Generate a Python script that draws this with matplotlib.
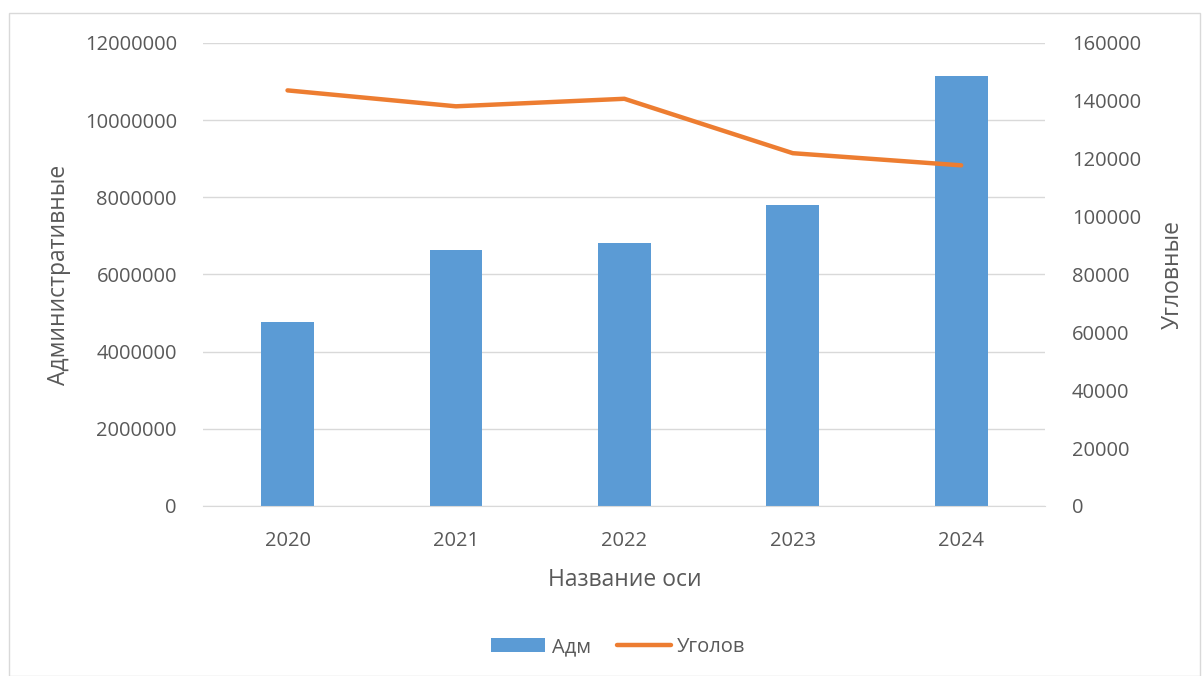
import matplotlib.pyplot as plt
from matplotlib.patches import Rectangle

years = ["2020", "2021", "2022", "2023", "2024"]
adm = [4767000, 6642000, 6824000, 7790000, 11132000]
ugolov = [143600, 138100, 140700, 121900, 117700]

plt.rcParams["font.family"] = ["Open Sans", "DejaVu Sans"]
txt = "#595959"
grid = "#d9d9d9"

fig = plt.figure(figsize=(12.03, 6.76), dpi=100)
ax = fig.add_axes([0.169, 0.2515, 0.7, 0.685])
ax2 = ax.twinx()

x = range(len(years))
ax.bar(x, adm, width=0.313, color="#5b9bd5", label="Адм", zorder=2)
ax2.plot(x, ugolov, color="#ed7d31", lw=3.2, solid_capstyle="round",
         solid_joinstyle="round", label="Уголов", zorder=3)

ax.set_xlim(-0.5, 4.5)
ax.set_ylim(0, 12000000)
ax.set_yticks(range(0, 12000001, 2000000))
ax.set_yticklabels([str(v) for v in range(0, 12000001, 2000000)])
ax2.set_ylim(0, 160000)
ax2.set_yticks(range(0, 160001, 20000))
ax2.set_yticklabels([str(v) for v in range(0, 160001, 20000)])
ax.set_xticks(list(x))
ax.set_xticklabels(years)

ax.yaxis.grid(True, color=grid, lw=1, zorder=0)
ax.set_axisbelow(True)
for a in (ax, ax2):
    for s in ("top", "left", "right"):
        a.spines[s].set_visible(False)
    a.spines["bottom"].set_color(grid)
    a.tick_params(length=0, colors=txt, labelsize=14.5)
ax2.spines["bottom"].set_visible(False)
ax.tick_params(axis="y", pad=19)
ax.tick_params(axis="x", pad=18)
ax2.tick_params(axis="y", pad=19)

ax.set_ylabel("Административные", color=txt, fontsize=16.5, labelpad=10)
ax2.set_ylabel("Угловные", color=txt, fontsize=16.5, labelpad=14)
ax.set_xlabel("Название оси", color=txt, fontsize=16.5, labelpad=12)

h1, l1 = ax.get_legend_handles_labels()
h2, l2 = ax2.get_legend_handles_labels()
fig.legend(h1 + h2, l1 + l2, loc="center", bbox_to_anchor=(0.514, 0.043),
           ncol=2, frameon=False, fontsize=14.5, labelcolor=txt,
           handlelength=2.7, columnspacing=1.3, handletextpad=0.3)

fig.patches.append(Rectangle((9 / 1203, 0), 1 - 12 / 1203, 1 - 13 / 676,
                             transform=fig.transFigure, fill=False,
                             edgecolor=grid, lw=1))

fig.savefig("out.png", dpi=100)
